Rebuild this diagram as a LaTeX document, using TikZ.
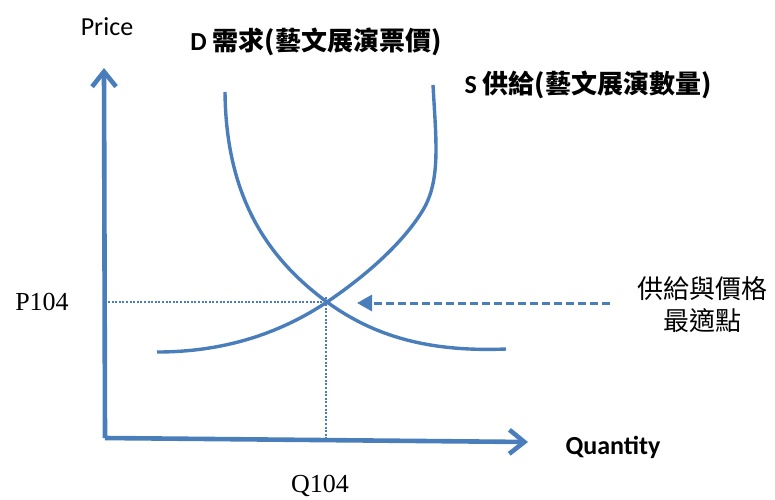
\documentclass[tikz,border=0pt]{standalone}
\usepackage{fontspec}
\setmainfont{Carlito}
\newfontfamily\cjk{Noto Sans CJK TC}
\newfontfamily\numfont{Liberation Serif}
\usepackage{tikz}
\usetikzlibrary{arrows.meta}
\definecolor{chartblue}{HTML}{4A7EBB}

\begin{document}
\begin{tikzpicture}[x=1pt, y=-1pt,
    axisline/.style={chartblue, line width=4.6pt, line cap=butt,
        -{Straight Barb[length=15pt, width=24pt, line width=4.6pt]}},
    curveline/.style={chartblue, line width=3.4pt},
    guideline/.style={chartblue, line width=2pt, dash pattern=on 2pt off 1.6pt},
    pointer/.style={chartblue, line width=3pt, dash pattern=on 8pt off 4pt,
        -{Triangle[length=15pt, width=16pt]}},
    lbl/.style={font=\fontsize{26}{32}\selectfont, inner sep=0pt}]

    \useasboundingbox (0,0) rectangle (775,499);

    % Trục tọa độ
    \coordinate (O) at (105,438);
    \coordinate (ytip) at (104,68);
    \coordinate (xtip) at (528,442);
    \draw[axisline] (O) -- (ytip);
    \draw[axisline] (O) -- (xtip);

    % Đường cầu D
    \draw[curveline] (225,92) .. controls (226,200) and (270,260) .. (327,302)
        .. controls (375,337) and (430,352) .. (506,349);

    % Đường cung S
    \draw[curveline] (157,352) .. controls (230,352) and (285,330) .. (327,302)
        .. controls (370,273) and (405,240) .. (423,210)
        .. controls (441,180) and (436,140) .. (433,85);

    % Điểm cân bằng và các đường gióng
    \coordinate (E) at (327,302);
    \coordinate (Ey) at (108,302);
    \coordinate (Ex) at (326,438);
    \draw[guideline] (Ey) -- (E);
    \draw[guideline] (E) ++(-1,-5) -- (Ex);

    % Mũi tên chỉ điểm cân bằng
    \coordinate (tail) at (610,303);
    \coordinate (head) at (357,303);
    \draw[pointer] (tail) -- (head);

    % Nhãn
    \node[lbl] (price) at (107,27) {Price};
    \node[lbl, font=\fontsize{26}{32}\selectfont\bfseries] (dlabel) at (316,42) {D \cjk 需求\bfseries(藝文展演票價)};
    \node[lbl, font=\fontsize{26}{32}\selectfont\bfseries] (slabel) at (588,85) {S \cjk 供給\bfseries(藝文展演數量)};
    \node[lbl, align=center, font=\fontsize{26}{32}\selectfont\cjk] (eqlabel) at (702,305) {供給與價格\\最適點};
    \node[lbl, font=\fontsize{26}{32}\selectfont\numfont] (plabel) at (42,302) {P104};
    \node[lbl, font=\fontsize{26}{32}\selectfont\numfont] (qlabel) at (320,486) {Q104};
    \node[lbl, font=\fontsize{26}{32}\selectfont\bfseries] (quantity) at (613,447) {Quantity};

\end{tikzpicture}
\end{document}
